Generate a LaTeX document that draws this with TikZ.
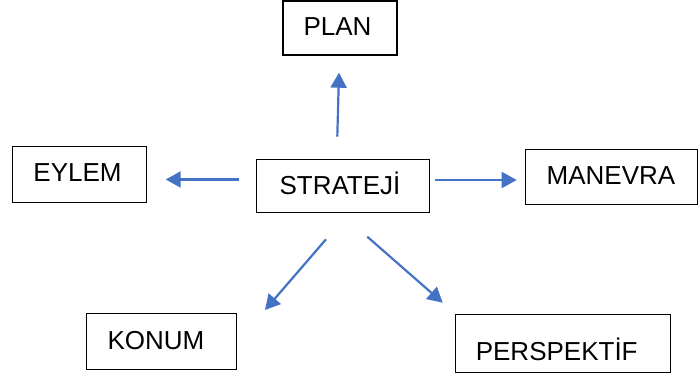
\documentclass[tikz,border=0pt]{standalone}
\usepackage{fontspec}
\setmainfont{Liberation Sans}
\usetikzlibrary{arrows.meta}
\definecolor{arrowblue}{HTML}{4472C4}
\begin{document}
\begin{tikzpicture}[x=1pt,y=-1pt,
  box/.style={draw=black,line width=1.1pt,inner sep=0pt},
  lbl/.style={inner sep=0pt,anchor=base,font=\fontsize{26pt}{30pt}\selectfont},
  conn/.style={draw=arrowblue,line width=2.2pt,-{Triangle[length=15pt,width=16pt]}}]
\useasboundingbox (0,0) rectangle (698,377);
% boxes
\node[box,minimum width=114pt,minimum height=54pt] (planbox) at (340,28) {};
\node[box,minimum width=134pt,minimum height=56pt] (eylembox) at (79.7,174.7) {};
\node[box,minimum width=173pt,minimum height=53pt] (stratbox) at (343,185.6) {};
\node[box,minimum width=172pt,minimum height=55pt] (manbox) at (611.7,176.8) {};
\node[box,minimum width=150pt,minimum height=56pt] (konbox) at (161.7,341.3) {};
\node[box,minimum width=215pt,minimum height=58pt] (perbox) at (562.7,343.8) {};
% labels
\node[lbl] (plan) at (337.5,36) {PLAN};
\node[lbl] (eylem) at (77.5,181.7) {EYLEM};
\node[lbl] (strat) at (340,194.3) {STRATEJİ};
\node[lbl] (man) at (611,184.3) {MANEVRA};
\node[lbl] (kon) at (156,349) {KONUM};
\node[lbl] (per) at (556.7,360) {PERSPEKTİF};
% arrow end points
\coordinate (aup1) at (337.3,136.7);
\coordinate (aup2) at (339,72.7);
\coordinate (al1) at (239.3,179.5);
\coordinate (al2) at (165.7,179.5);
\coordinate (ar1) at (435,180);
\coordinate (ar2) at (516.7,180);
\coordinate (ak1) at (326,239.3);
\coordinate (ak2) at (265,310);
\coordinate (ap1) at (367.3,236.7);
\coordinate (ap2) at (442.7,302.7);
\draw[conn] (aup1) -- (aup2);
\draw[conn] (al1) -- (al2);
\draw[conn] (ar1) -- (ar2);
\draw[conn] (ak1) -- (ak2);
\draw[conn] (ap1) -- (ap2);
\end{tikzpicture}
\end{document}
